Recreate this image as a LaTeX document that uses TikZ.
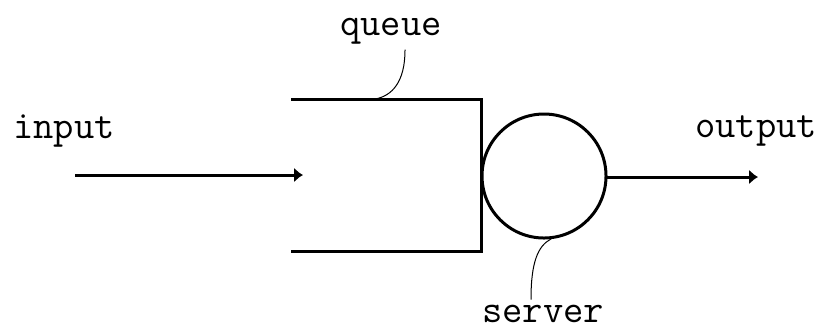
\documentclass[tikz,border=0pt]{standalone}
\usetikzlibrary{arrows.meta}

\begin{document}
\begin{tikzpicture}[x=0.5pt,y=-0.5pt, line cap=rect,
    wall/.style={line width=1.5pt},
    lead/.style={line width=0.5pt},
    lbl/.style={font=\ttfamily\fontsize{19.7}{24}\selectfont, inner sep=0pt, anchor=base},
    flow/.style={wall, -{Latex[length=4.5pt,width=7.5pt]}}]
      \useasboundingbox (0,0) rectangle (822,329);

      % queue and server
      \coordinate (qtl) at (292,99);
      \coordinate (qtr) at (481,99);
      \coordinate (qbr) at (481,251);
      \coordinate (qbl) at (292,251);
      \draw[wall] (qtl) -- (qtr) -- (qbr) -- (qbl);
      \node[circle, draw, wall, minimum size=62pt, inner sep=0pt] (server) at (544,176) {};

      % flow in and out
      \coordinate (src) at (76,175);
      \coordinate (qin) at (303,175);
      \coordinate (sink) at (758,177);
      \draw[flow] (src) -- (qin);
      \draw[flow] (server.east |- sink) -- (sink);

      % labels
      \node[lbl] (input) at (64,138) {input};
      \node[lbl] (output) at (756,137) {output};
      \node[lbl] (queue) at (391,35) {queue};
      \node[lbl] (srvlbl) at (543,322) {server};

      \coordinate (qmark) at (375,99);
      \coordinate (qtop) at (405,50);
      \draw[lead] (qtop) .. controls (405,82) and (392,96) .. (qmark);
      \coordinate (stop) at (531,299);
      \draw[lead] (stop) .. controls (531,262) and (538,246) .. (server.-84);
\end{tikzpicture}
\end{document}
